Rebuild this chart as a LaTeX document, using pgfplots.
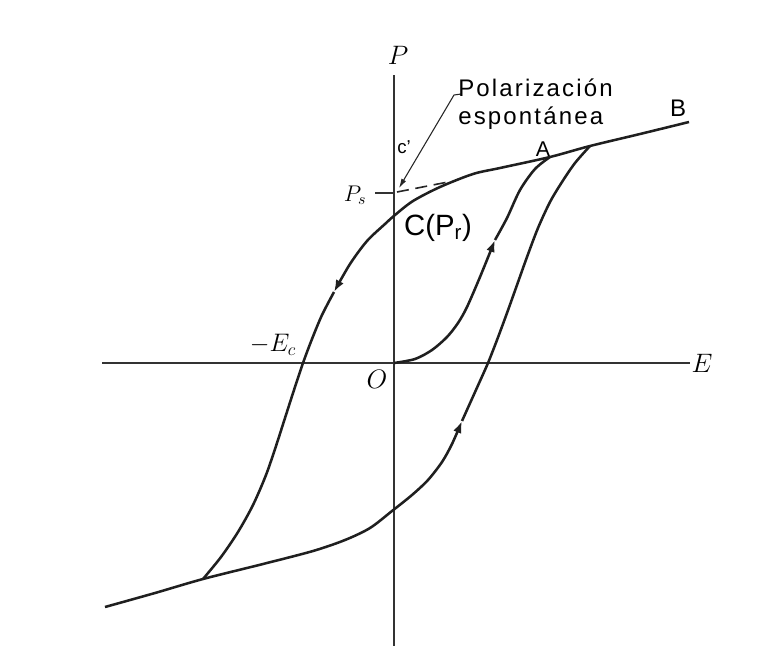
\RequirePackage{fix-cm}
\documentclass[border=0pt]{standalone}
\usepackage{fontspec}
\setmainfont{Liberation Sans}
\usepackage{pgfplots}
\pgfplotsset{compat=1.18}
\usetikzlibrary{arrows.meta}

\begin{document}
\begin{tikzpicture}
\begin{axis}[
  width=570.75pt, height=484.5pt, scale only axis,
  xmin=0, xmax=761, ymin=0, ymax=646, y dir=reverse,
  hide axis, clip=false,
  curve/.style={line width=1.9pt, color=black!88, smooth, tension=0.5, mark=none},
  thin line/.style={line width=0.9pt, color=black!80, mark=none},
  tip/.style={-{Latex[length=9pt,width=6.5pt]}},
]
\fill[white] (rel axis cs:0,0) rectangle (rel axis cs:1,1);

% E and P axes
\addplot[thin line] coordinates {(102,363) (690,363)};
\addplot[thin line] coordinates {(394,75) (394,646)};

% saturation tick P_s and its extrapolation (dashed)
\addplot[thin line] coordinates {(375,193) (395,193)};
\addplot[line width=1.2pt, black!85, dash pattern=on 9pt off 5pt, mark=none]
  coordinates {(397,192) (448,182)};

% pointer from the label
\addplot[line width=0.8pt, black!85, mark=none, -{Latex[length=7pt,width=4pt]}]
  coordinates {(461,94) (454,95) (399,188)};

% upper branch, travelled from B towards negative field
\addplot[curve, tip] coordinates {
  (689,122) (640,134) (590,146) (550,157) (500,168) (473,174) (440,187)
  (413,201) (395,215) (385,224) (367,241) (350,264) (334,292)};
\addplot[curve] coordinates {
  (334,292) (322,315) (312,339) (303,363) (294,390) (285,418) (276,446)
  (266,475) (253,505) (238,532) (221,557) (203,579)};

% lower branch, travelled towards positive field
\addplot[curve, tip] coordinates {
  (105,607) (155,593) (203,579) (263,564) (313,551) (345,540) (370,528)
  (392,511) (412,495) (428,480) (442,462) (452,444) (462,421)};
\addplot[curve] coordinates {
  (462,421) (471,401) (480,381) (488,363) (497,340) (507,313) (517,285)
  (527,257) (538,228) (550,202) (562,182) (575,163) (590,146)};

% first polarization curve from the origin to A
\addplot[curve, tip] coordinates {
  (394,363) (415,359) (432,350) (447,337) (458,323) (467,307) (480,277)
  (495,240)};
\addplot[curve] coordinates {
  (495,240) (507,218) (520,190) (535,169) (550,157)};

% labels
\node[font=\fontsize{20}{24}\selectfont] at (axis cs:398,55) {$P$};
\node[font=\fontsize{20}{24}\selectfont] at (axis cs:702,363) {$E$};
\node[font=\fontsize{20}{24}\selectfont] at (axis cs:377,379) {$O$};
\node[font=\fontsize{19}{23}\selectfont] at (axis cs:273,345) {$-E_c$};
\node[font=\fontsize{17}{21}\selectfont] at (axis cs:355,195) {$P_s$};
\node[font=\fontsize{16}{19}\selectfont] at (axis cs:543,149) {A};
\node[font=\fontsize{18}{22}\selectfont] at (axis cs:678,108) {B};
\node[font=\fontsize{14}{17}\selectfont] at (axis cs:404,147) {c'};
\node[font=\fontsize{22}{26}\selectfont] at (axis cs:438,228) {C(P\textsubscript{r})};
\node[anchor=west, font=\fontsize{18}{22}\selectfont\addfontfeature{LetterSpace=9}, inner sep=0pt]
  at (axis cs:458,88) {Polarización};
\node[anchor=west, font=\fontsize{18}{22}\selectfont\addfontfeature{LetterSpace=9}, inner sep=0pt]
  at (axis cs:458,118) {espontánea};
\end{axis}
\end{tikzpicture}
\end{document}
